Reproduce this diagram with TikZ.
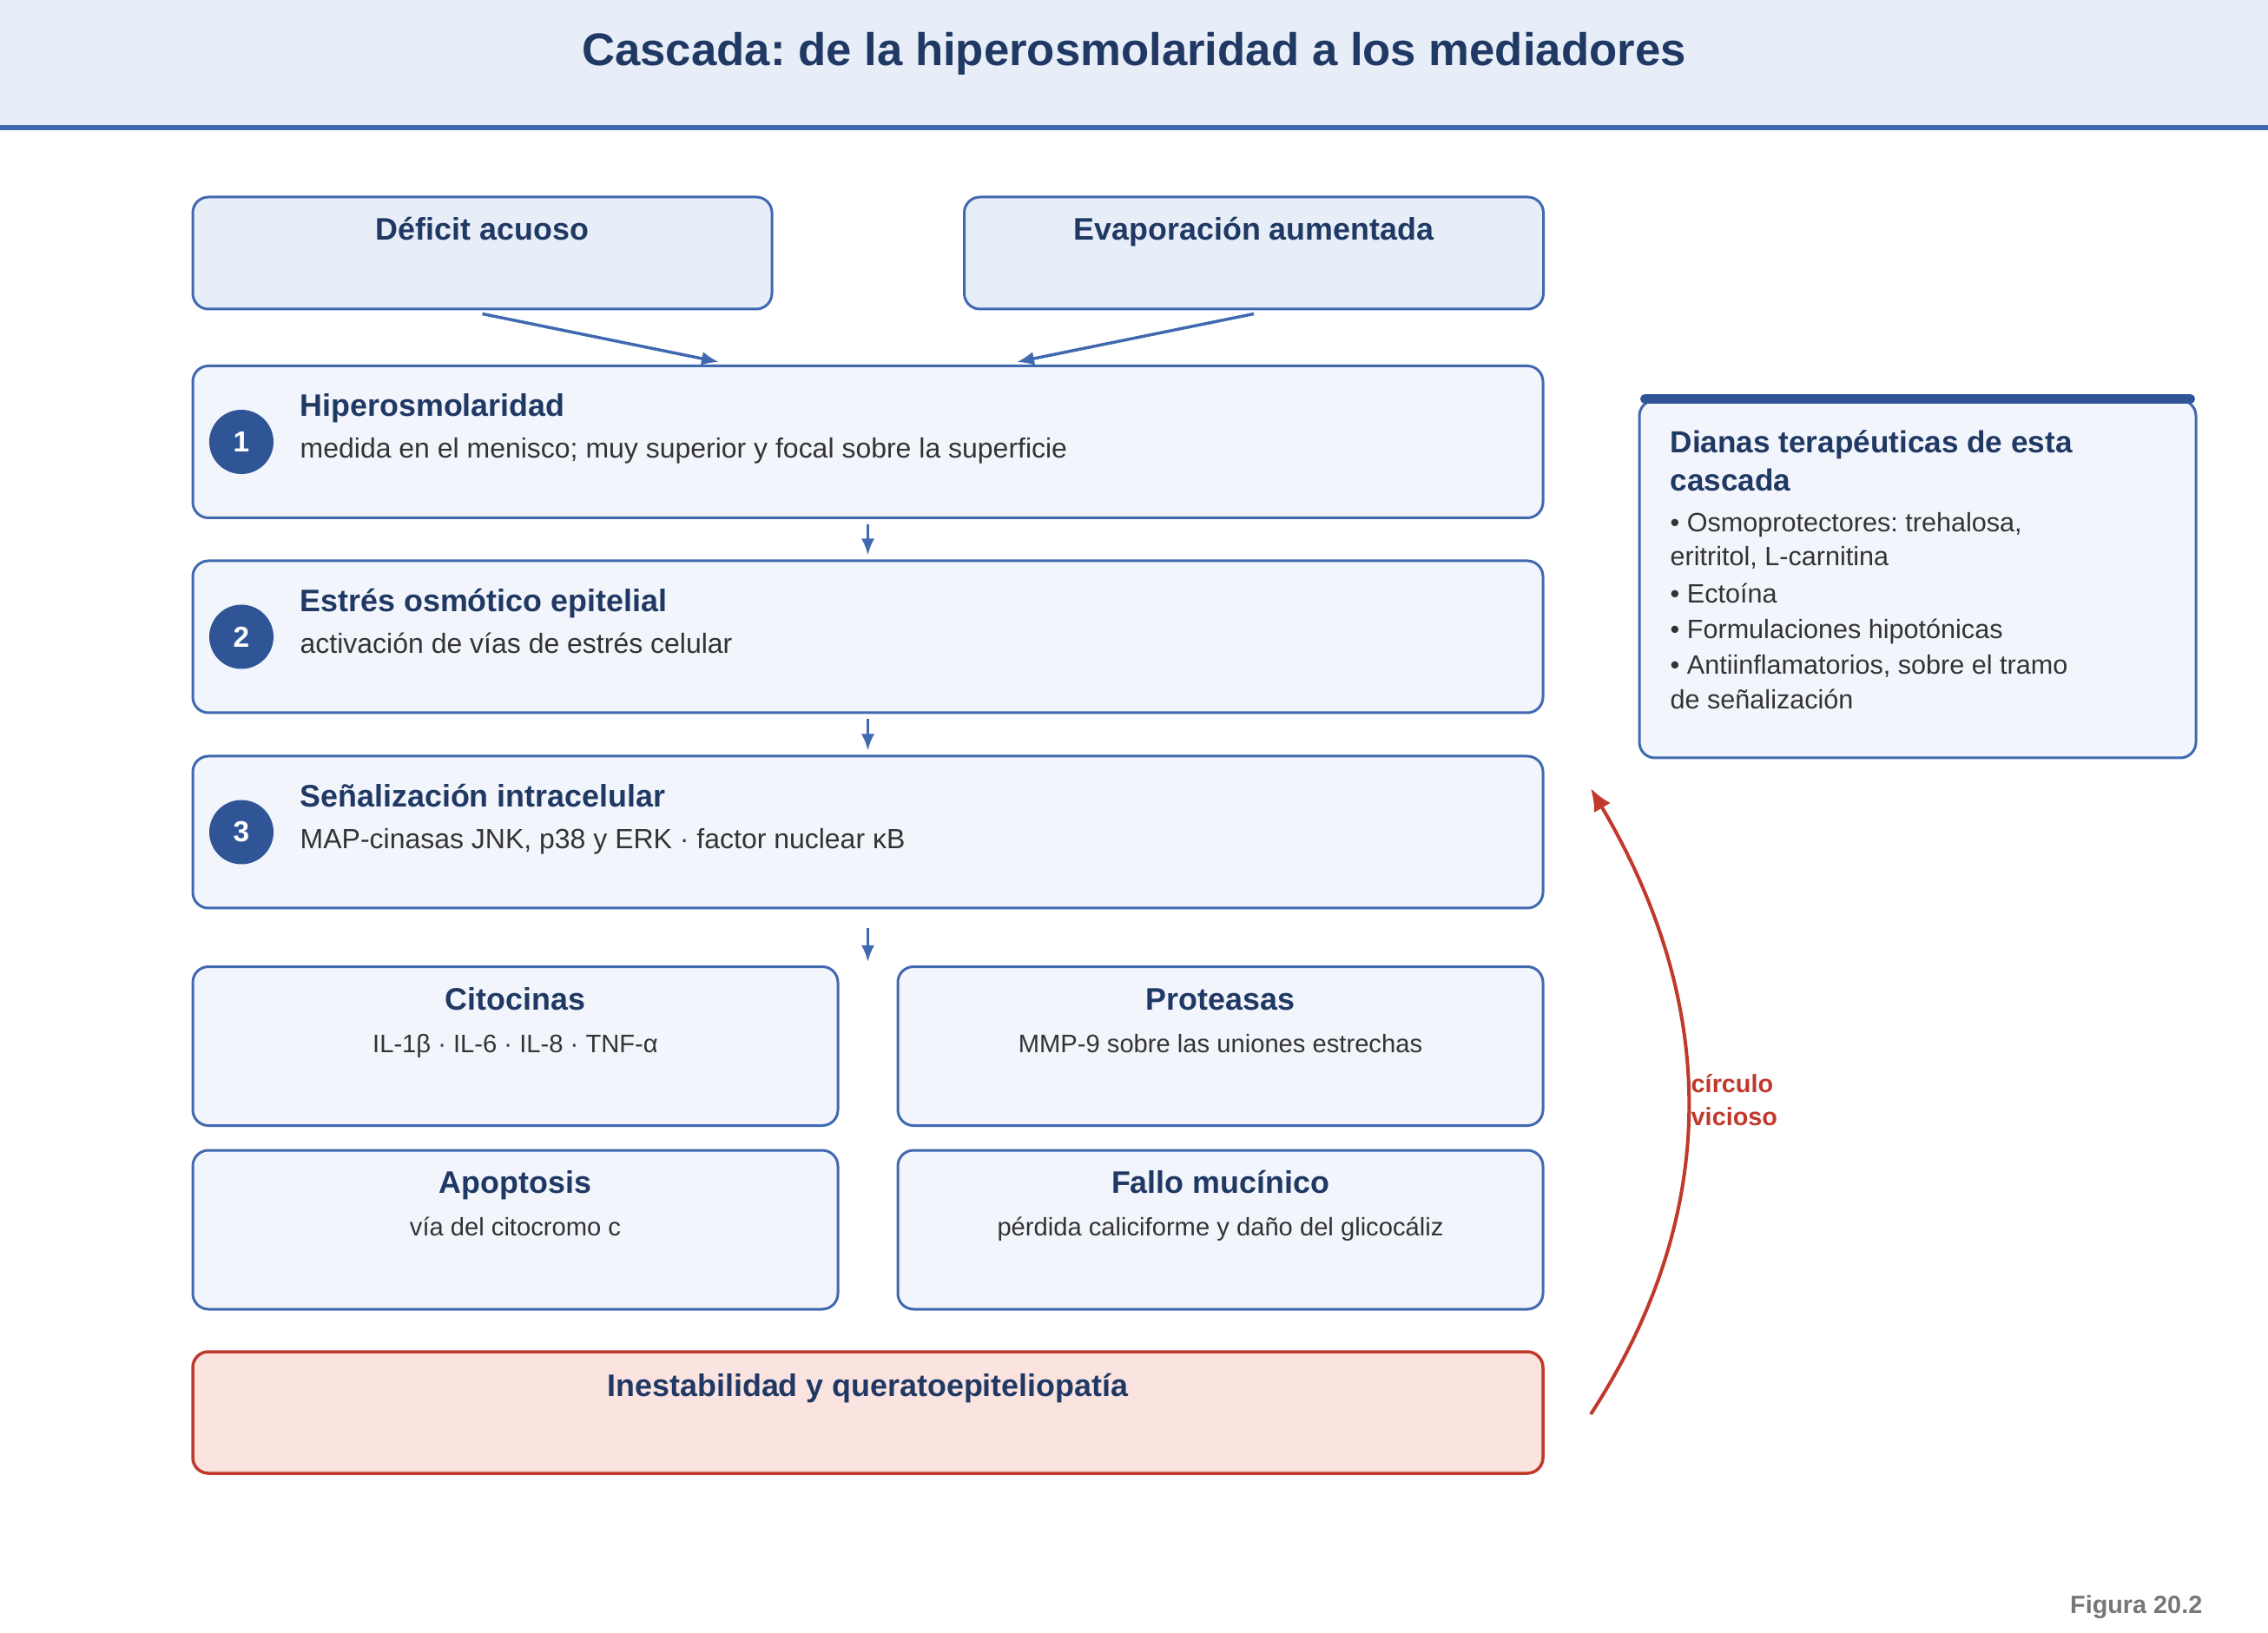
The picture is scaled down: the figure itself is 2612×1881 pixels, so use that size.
\documentclass[tikz,border=0pt]{standalone}
\usepackage{fontspec}
\setmainfont{Liberation Sans}
\usetikzlibrary{arrows.meta}
\frenchspacing

\definecolor{hdrfill}{HTML}{E8EEF8}
\definecolor{edgeblue}{HTML}{4169B0}
\definecolor{navy}{HTML}{1F3864}
\definecolor{dotblue}{HTML}{2F5597}
\definecolor{stepfill}{HTML}{F2F5FB}
\definecolor{bodygray}{HTML}{333333}
\definecolor{alertred}{HTML}{C0392B}
\definecolor{alertfill}{HTML}{FBE3E0}
\definecolor{notegray}{HTML}{777777}

\begin{document}
\begin{tikzpicture}[
      x=0.1mm, y=-0.1mm,
      box/.style={draw=edgeblue, line width=0.3mm, rounded corners=1.8mm, inner sep=0pt},
      causebox/.style={box, fill=hdrfill, minimum width=66.7mm, minimum height=12.9mm},
      stepbox/.style={box, fill=stepfill, minimum width=155.5mm, minimum height=17.5mm},
      effectbox/.style={box, fill=stepfill, minimum width=74.3mm, minimum height=18.3mm},
      stepdot/.style={circle, fill=dotblue, minimum size=7.4mm, inner sep=0pt, text=white,
        font=\fontsize{9.5}{11}\selectfont\bfseries},
      heading/.style={text=navy, inner sep=0pt, font=\fontsize{10.2}{12}\selectfont\bfseries},
      steptext/.style={text=bodygray, inner sep=0pt, font=\fontsize{9.1}{11}\selectfont},
      smalltext/.style={text=bodygray, inner sep=0pt, font=\fontsize{8.3}{10}\selectfont},
      listtext/.style={text=bodygray, inner sep=0pt, font=\fontsize{8.7}{10}\selectfont},
      flow/.style={draw=edgeblue, line width=0.3mm, -{Latex[length=1.9mm, width=1.5mm]}}
    ]

    % Page and header band
    \useasboundingbox (0,0) rectangle (2612,1881);
    \fill[hdrfill] (0,0) rectangle (2612,145);
    \draw[edgeblue, line width=0.6mm] (0,147) -- (2612,147);
    \node[heading, anchor=base, font=\fontsize{15}{18}\selectfont\bfseries] (title) at (1306,76)
      {Cascada: de la hiperosmolaridad a los mediadores};

    % Two causes
    \node[causebox] (deficit) at (555.5,291.5) {};
    \node[heading, anchor=base] (deficitt) at (555.5,277) {Déficit acuoso};
    \node[causebox] (evap) at (1444,291.5) {};
    \node[heading, anchor=base] (evapt) at (1444,277) {Evaporación aumentada};

    % Numbered steps of the cascade
    \foreach \i/\y/\ttl/\sub in {
        1/509/Hiperosmolaridad/{medida en el menisco; muy superior y focal sobre la superficie},
        2/733.5/{Estrés osmótico epitelial}/{activación de vías de estrés celular},
        3/958.5/{Señalización intracelular}/{MAP-cinasas JNK, p38 y ERK · factor nuclear κB}} {
      \node[stepbox] (s\i) at (999.5,\y) {};
      \node[stepdot] (d\i) at (278,\y) {\i};
      \node[heading, anchor=base west] (ttl\i) at (345,\y-29) {\ttl};
      \node[steptext, anchor=base west] (sub\i) at (345,\y+19) {\sub};
    }

    % Mediators, 2x2
    \foreach \n/\x/\y/\ttl/\sub in {
        cit/593.5/1205/Citocinas/{IL-1β · IL-6 · IL-8 · TNF-α},
        pro/1405.5/1205/Proteasas/{MMP-9 sobre las uniones estrechas},
        apo/593.5/1416.5/Apoptosis/{vía del citocromo c},
        muc/1405.5/1416.5/{Fallo mucínico}/{pérdida caliciforme y daño del glicocáliz}} {
      \node[effectbox] (\n) at (\x,\y) {};
      \node[heading, anchor=base] (\n t) at (\x,\y-42) {\ttl};
      \node[smalltext, anchor=base] (\n s) at (\x,\y+7) {\sub};
    }

    % Outcome
    \node[box, draw=alertred, line width=0.35mm, fill=alertfill, minimum width=155.5mm,
      minimum height=14mm] (outcome) at (999.5,1627) {};
    \node[heading, anchor=base] (outcomet) at (999.5,1608) {Inestabilidad y queratoepiteliopatía};

    % Arrows down the cascade
    \coordinate (split) at (999.5,1108);
    \draw[flow, line width=0.35mm, -{Latex[length=2mm, width=1.6mm]}] ([yshift=-0.4mm]deficit.south)
      -- ([xshift=-17.15mm, yshift=0.3mm]s1.north);
    \draw[flow, line width=0.35mm, -{Latex[length=2mm, width=1.6mm]}] ([yshift=-0.4mm]evap.south)
      -- ([xshift=17.15mm, yshift=0.3mm]s1.north);
    \draw[flow] ([yshift=-0.6mm]s1.south) -- ([yshift=0.5mm]s2.north);
    \draw[flow] ([yshift=-0.6mm]s2.south) -- ([yshift=0.5mm]s3.north);
    \draw[flow] ([yshift=-2.2mm]s3.south) -- (split);

    % Feedback loop
    \coordinate (loopstart) at (1832,1629);
    \coordinate (loopend) at (1832,908);
    \draw[alertred, line width=0.4mm, -{Latex[length=2.6mm, width=2.2mm]}] (loopstart)
      .. controls (1981,1400) and (1981,1160) .. (loopend);
    \node[anchor=base west, inner sep=0pt, text=alertred, font=\fontsize{8.2}{10}\selectfont\bfseries]
      (loop1) at (1947,1258) {círculo};
    \node[anchor=base west, inner sep=0pt, text=alertred, font=\fontsize{8.2}{10}\selectfont\bfseries]
      (loop2) at (1947,1296) {vicioso};

    % Therapeutic targets
    \node[box, fill=stepfill, minimum width=64.1mm, minimum height=41.2mm] (targets) at (2208.5,667) {};
    \draw[dotblue, line width=1.1mm, line cap=round] ([xshift=0.8mm]targets.north west)
      -- ([xshift=-0.8mm]targets.north east);
    \node[heading, anchor=base west, font=\fontsize{10}{12}\selectfont\bfseries] (targett1) at (1923,522)
      {Dianas terapéuticas de esta};
    \node[heading, anchor=base west, font=\fontsize{10}{12}\selectfont\bfseries] (targett2) at (1923,566)
      {cascada};
    \foreach \k/\y/\txt in {
        1/613/{• Osmoprotectores: trehalosa,},
        2/652/{eritritol, L-carnitina},
        3/695/{• Ectoína},
        4/736/{• Formulaciones hipotónicas},
        5/777/{• Antiinflamatorios, sobre el tramo},
        6/817/{de señalización}} {
      \node[listtext, anchor=base west] (item\k) at (1923,\y) {\txt};
    }

    % Figure number
    \node[anchor=base east, inner sep=0pt, text=notegray, font=\fontsize{8.2}{10}\selectfont\bfseries]
      (fignum) at (2537,1858) {Figura 20.2};
  \end{tikzpicture}
\end{document}
